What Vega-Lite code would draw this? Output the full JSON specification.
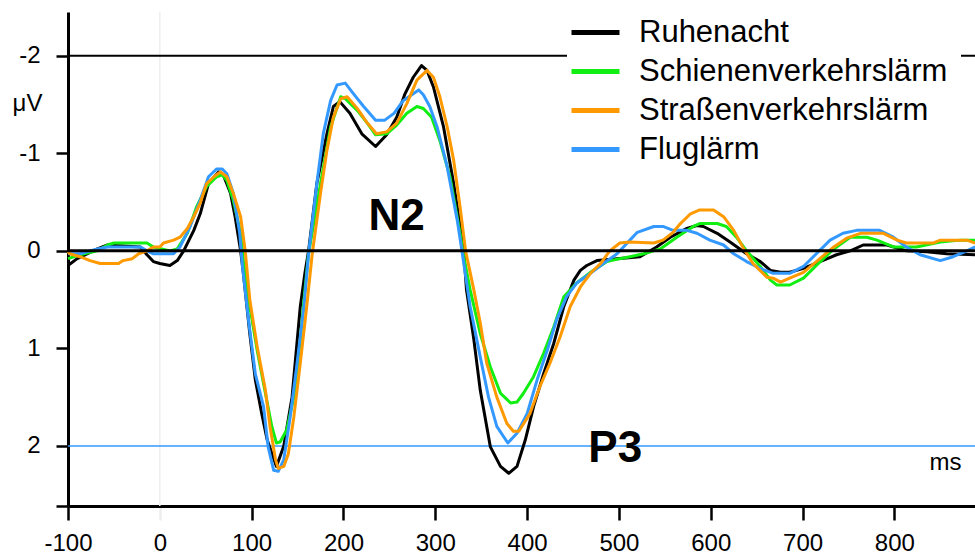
{
  "$schema": "https://vega.github.io/schema/vega-lite/v6.json",
  "width": 907,
  "height": 494,
  "autosize": "none",
  "padding": {"left": 68, "top": 12, "right": 0, "bottom": 53},
  "background": "white",
  "config": {"view": {"stroke": null}},
  "datasets": {
    "erp": [
      {"s":"Ruhenacht","t":-100,"v":0.15},{"s":"Ruhenacht","t":-90,"v":0.08},{"s":"Ruhenacht","t":-68,"v":-0.02},{"s":"Ruhenacht","t":-57,"v":-0.06},{"s":"Ruhenacht","t":-21,"v":-0.04},{"s":"Ruhenacht","t":-14,"v":0.04},{"s":"Ruhenacht","t":-7,"v":0.11},{"s":"Ruhenacht","t":0,"v":0.13},{"s":"Ruhenacht","t":11,"v":0.15},{"s":"Ruhenacht","t":19,"v":0.10},{"s":"Ruhenacht","t":26,"v":0.0},{"s":"Ruhenacht","t":37,"v":-0.21},{"s":"Ruhenacht","t":44,"v":-0.38},{"s":"Ruhenacht","t":53,"v":-0.69},{"s":"Ruhenacht","t":64,"v":-0.81},{"s":"Ruhenacht","t":69,"v":-0.78},{"s":"Ruhenacht","t":77,"v":-0.59},{"s":"Ruhenacht","t":82,"v":-0.35},{"s":"Ruhenacht","t":88,"v":0.0},{"s":"Ruhenacht","t":91,"v":0.23},{"s":"Ruhenacht","t":98,"v":0.85},{"s":"Ruhenacht","t":104,"v":1.32},{"s":"Ruhenacht","t":111,"v":1.67},{"s":"Ruhenacht","t":117,"v":1.94},{"s":"Ruhenacht","t":127,"v":2.21},{"s":"Ruhenacht","t":135,"v":2.0},{"s":"Ruhenacht","t":144,"v":1.5},{"s":"Ruhenacht","t":153,"v":0.57},{"s":"Ruhenacht","t":158,"v":0.23},{"s":"Ruhenacht","t":162,"v":0.0},{"s":"Ruhenacht","t":171,"v":-0.69},{"s":"Ruhenacht","t":182,"v":-1.2},{"s":"Ruhenacht","t":189,"v":-1.48},{"s":"Ruhenacht","t":196,"v":-1.53},{"s":"Ruhenacht","t":207,"v":-1.41},{"s":"Ruhenacht","t":220,"v":-1.2},{"s":"Ruhenacht","t":235,"v":-1.07},{"s":"Ruhenacht","t":247,"v":-1.19},{"s":"Ruhenacht","t":258,"v":-1.37},{"s":"Ruhenacht","t":267,"v":-1.61},{"s":"Ruhenacht","t":276,"v":-1.78},{"s":"Ruhenacht","t":285,"v":-1.9},{"s":"Ruhenacht","t":291,"v":-1.85},{"s":"Ruhenacht","t":298,"v":-1.68},{"s":"Ruhenacht","t":309,"v":-1.27},{"s":"Ruhenacht","t":320,"v":-0.69},{"s":"Ruhenacht","t":331,"v":0.0},{"s":"Ruhenacht","t":334,"v":0.4},{"s":"Ruhenacht","t":342,"v":0.91},{"s":"Ruhenacht","t":349,"v":1.43},{"s":"Ruhenacht","t":360,"v":2.01},{"s":"Ruhenacht","t":371,"v":2.21},{"s":"Ruhenacht","t":380,"v":2.28},{"s":"Ruhenacht","t":389,"v":2.21},{"s":"Ruhenacht","t":398,"v":1.94},{"s":"Ruhenacht","t":407,"v":1.6},{"s":"Ruhenacht","t":418,"v":1.26},{"s":"Ruhenacht","t":429,"v":0.95},{"s":"Ruhenacht","t":440,"v":0.57},{"s":"Ruhenacht","t":451,"v":0.3},{"s":"Ruhenacht","t":458,"v":0.2},{"s":"Ruhenacht","t":465,"v":0.15},{"s":"Ruhenacht","t":476,"v":0.1},{"s":"Ruhenacht","t":498,"v":0.08},{"s":"Ruhenacht","t":523,"v":0.06},{"s":"Ruhenacht","t":541,"v":-0.04},{"s":"Ruhenacht","t":556,"v":-0.14},{"s":"Ruhenacht","t":574,"v":-0.23},{"s":"Ruhenacht","t":585,"v":-0.26},{"s":"Ruhenacht","t":592,"v":-0.25},{"s":"Ruhenacht","t":607,"v":-0.18},{"s":"Ruhenacht","t":621,"v":-0.09},{"s":"Ruhenacht","t":639,"v":0.03},{"s":"Ruhenacht","t":654,"v":0.11},{"s":"Ruhenacht","t":665,"v":0.2},{"s":"Ruhenacht","t":676,"v":0.22},{"s":"Ruhenacht","t":686,"v":0.22},{"s":"Ruhenacht","t":701,"v":0.18},{"s":"Ruhenacht","t":719,"v":0.11},{"s":"Ruhenacht","t":737,"v":0.04},{"s":"Ruhenacht","t":752,"v":0.0},{"s":"Ruhenacht","t":766,"v":-0.06},{"s":"Ruhenacht","t":792,"v":-0.06},{"s":"Ruhenacht","t":813,"v":0.0},{"s":"Ruhenacht","t":835,"v":0.01},{"s":"Ruhenacht","t":857,"v":0.03},{"s":"Ruhenacht","t":888,"v":0.04},

      {"s":"Schienenverkehrslärm","t":-100,"v":0.08},{"s":"Schienenverkehrslärm","t":-87,"v":0.04},{"s":"Schienenverkehrslärm","t":-68,"v":0.0},{"s":"Schienenverkehrslärm","t":-57,"v":-0.06},{"s":"Schienenverkehrslärm","t":-50,"v":-0.08},{"s":"Schienenverkehrslärm","t":-14,"v":-0.08},{"s":"Schienenverkehrslärm","t":-7,"v":-0.04},{"s":"Schienenverkehrslärm","t":11,"v":0.0},{"s":"Schienenverkehrslärm","t":19,"v":-0.02},{"s":"Schienenverkehrslärm","t":30,"v":-0.18},{"s":"Schienenverkehrslärm","t":40,"v":-0.45},{"s":"Schienenverkehrslärm","t":51,"v":-0.66},{"s":"Schienenverkehrslärm","t":62,"v":-0.76},{"s":"Schienenverkehrslärm","t":68,"v":-0.78},{"s":"Schienenverkehrslärm","t":73,"v":-0.72},{"s":"Schienenverkehrslärm","t":80,"v":-0.52},{"s":"Schienenverkehrslärm","t":88,"v":-0.18},{"s":"Schienenverkehrslärm","t":91,"v":0.1},{"s":"Schienenverkehrslärm","t":98,"v":0.57},{"s":"Schienenverkehrslärm","t":106,"v":1.02},{"s":"Schienenverkehrslärm","t":115,"v":1.46},{"s":"Schienenverkehrslärm","t":122,"v":1.8},{"s":"Schienenverkehrslärm","t":127,"v":1.97},{"s":"Schienenverkehrslärm","t":131,"v":1.96},{"s":"Schienenverkehrslärm","t":138,"v":1.84},{"s":"Schienenverkehrslärm","t":146,"v":1.5},{"s":"Schienenverkehrslärm","t":153,"v":0.91},{"s":"Schienenverkehrslärm","t":158,"v":0.4},{"s":"Schienenverkehrslärm","t":162,"v":0.03},{"s":"Schienenverkehrslärm","t":175,"v":-0.69},{"s":"Schienenverkehrslärm","t":186,"v":-1.27},{"s":"Schienenverkehrslärm","t":197,"v":-1.58},{"s":"Schienenverkehrslärm","t":202,"v":-1.56},{"s":"Schienenverkehrslärm","t":215,"v":-1.44},{"s":"Schienenverkehrslärm","t":226,"v":-1.31},{"s":"Schienenverkehrslärm","t":235,"v":-1.19},{"s":"Schienenverkehrslärm","t":247,"v":-1.2},{"s":"Schienenverkehrslärm","t":258,"v":-1.29},{"s":"Schienenverkehrslärm","t":269,"v":-1.41},{"s":"Schienenverkehrslärm","t":280,"v":-1.48},{"s":"Schienenverkehrslärm","t":287,"v":-1.46},{"s":"Schienenverkehrslärm","t":296,"v":-1.37},{"s":"Schienenverkehrslärm","t":305,"v":-1.13},{"s":"Schienenverkehrslärm","t":316,"v":-0.76},{"s":"Schienenverkehrslärm","t":327,"v":-0.18},{"s":"Schienenverkehrslärm","t":331,"v":0.06},{"s":"Schienenverkehrslärm","t":338,"v":0.4},{"s":"Schienenverkehrslärm","t":349,"v":0.85},{"s":"Schienenverkehrslärm","t":360,"v":1.19},{"s":"Schienenverkehrslärm","t":371,"v":1.46},{"s":"Schienenverkehrslärm","t":382,"v":1.56},{"s":"Schienenverkehrslärm","t":389,"v":1.55},{"s":"Schienenverkehrslärm","t":396,"v":1.46},{"s":"Schienenverkehrslärm","t":407,"v":1.29},{"s":"Schienenverkehrslärm","t":418,"v":1.05},{"s":"Schienenverkehrslärm","t":429,"v":0.78},{"s":"Schienenverkehrslärm","t":440,"v":0.47},{"s":"Schienenverkehrslärm","t":454,"v":0.33},{"s":"Schienenverkehrslärm","t":469,"v":0.22},{"s":"Schienenverkehrslärm","t":487,"v":0.11},{"s":"Schienenverkehrslärm","t":501,"v":0.08},{"s":"Schienenverkehrslärm","t":512,"v":0.06},{"s":"Schienenverkehrslärm","t":527,"v":0.03},{"s":"Schienenverkehrslärm","t":545,"v":-0.02},{"s":"Schienenverkehrslärm","t":563,"v":-0.14},{"s":"Schienenverkehrslärm","t":581,"v":-0.25},{"s":"Schienenverkehrslärm","t":588,"v":-0.28},{"s":"Schienenverkehrslärm","t":607,"v":-0.28},{"s":"Schienenverkehrslärm","t":617,"v":-0.25},{"s":"Schienenverkehrslärm","t":628,"v":-0.14},{"s":"Schienenverkehrslärm","t":639,"v":0.0},{"s":"Schienenverkehrslärm","t":654,"v":0.16},{"s":"Schienenverkehrslärm","t":665,"v":0.3},{"s":"Schienenverkehrslärm","t":672,"v":0.35},{"s":"Schienenverkehrslärm","t":686,"v":0.35},{"s":"Schienenverkehrslärm","t":701,"v":0.28},{"s":"Schienenverkehrslärm","t":715,"v":0.15},{"s":"Schienenverkehrslärm","t":734,"v":-0.02},{"s":"Schienenverkehrslärm","t":752,"v":-0.14},{"s":"Schienenverkehrslärm","t":770,"v":-0.14},{"s":"Schienenverkehrslärm","t":781,"v":-0.11},{"s":"Schienenverkehrslärm","t":799,"v":-0.04},{"s":"Schienenverkehrslärm","t":824,"v":-0.04},{"s":"Schienenverkehrslärm","t":850,"v":-0.09},{"s":"Schienenverkehrslärm","t":872,"v":-0.11},{"s":"Schienenverkehrslärm","t":888,"v":-0.11},

      {"s":"Fluglärm","t":-100,"v":0.03},{"s":"Fluglärm","t":-87,"v":0.03},{"s":"Fluglärm","t":-68,"v":-0.02},{"s":"Fluglärm","t":-57,"v":-0.04},{"s":"Fluglärm","t":-21,"v":-0.04},{"s":"Fluglärm","t":-14,"v":0.0},{"s":"Fluglärm","t":-7,"v":0.03},{"s":"Fluglärm","t":15,"v":0.03},{"s":"Fluglärm","t":22,"v":-0.04},{"s":"Fluglärm","t":33,"v":-0.25},{"s":"Fluglärm","t":44,"v":-0.52},{"s":"Fluglärm","t":53,"v":-0.76},{"s":"Fluglärm","t":62,"v":-0.84},{"s":"Fluglärm","t":68,"v":-0.84},{"s":"Fluglärm","t":73,"v":-0.79},{"s":"Fluglärm","t":80,"v":-0.59},{"s":"Fluglärm","t":87,"v":-0.18},{"s":"Fluglärm","t":90,"v":0.16},{"s":"Fluglärm","t":97,"v":0.74},{"s":"Fluglärm","t":104,"v":1.26},{"s":"Fluglärm","t":113,"v":1.6},{"s":"Fluglärm","t":118,"v":2.01},{"s":"Fluglärm","t":124,"v":2.25},{"s":"Fluglärm","t":129,"v":2.26},{"s":"Fluglärm","t":135,"v":2.14},{"s":"Fluglärm","t":142,"v":1.7},{"s":"Fluglärm","t":149,"v":1.19},{"s":"Fluglärm","t":157,"v":0.57},{"s":"Fluglärm","t":162,"v":0.03},{"s":"Fluglärm","t":171,"v":-0.69},{"s":"Fluglärm","t":178,"v":-1.2},{"s":"Fluglärm","t":186,"v":-1.54},{"s":"Fluglärm","t":193,"v":-1.7},{"s":"Fluglärm","t":202,"v":-1.72},{"s":"Fluglärm","t":211,"v":-1.61},{"s":"Fluglärm","t":222,"v":-1.48},{"s":"Fluglärm","t":235,"v":-1.34},{"s":"Fluglärm","t":245,"v":-1.34},{"s":"Fluglärm","t":255,"v":-1.41},{"s":"Fluglärm","t":265,"v":-1.54},{"s":"Fluglärm","t":276,"v":-1.61},{"s":"Fluglärm","t":282,"v":-1.65},{"s":"Fluglärm","t":287,"v":-1.6},{"s":"Fluglärm","t":294,"v":-1.48},{"s":"Fluglärm","t":302,"v":-1.27},{"s":"Fluglärm","t":313,"v":-0.86},{"s":"Fluglärm","t":324,"v":-0.31},{"s":"Fluglärm","t":329,"v":0.0},{"s":"Fluglärm","t":338,"v":0.57},{"s":"Fluglärm","t":349,"v":1.09},{"s":"Fluglärm","t":358,"v":1.5},{"s":"Fluglärm","t":367,"v":1.8},{"s":"Fluglärm","t":379,"v":1.97},{"s":"Fluglärm","t":389,"v":1.87},{"s":"Fluglärm","t":400,"v":1.67},{"s":"Fluglärm","t":411,"v":1.32},{"s":"Fluglärm","t":422,"v":1.02},{"s":"Fluglärm","t":432,"v":0.71},{"s":"Fluglärm","t":443,"v":0.47},{"s":"Fluglärm","t":454,"v":0.33},{"s":"Fluglärm","t":469,"v":0.23},{"s":"Fluglärm","t":483,"v":0.13},{"s":"Fluglärm","t":498,"v":0.03},{"s":"Fluglärm","t":506,"v":-0.05},{"s":"Fluglärm","t":512,"v":-0.11},{"s":"Fluglärm","t":520,"v":-0.19},{"s":"Fluglärm","t":538,"v":-0.25},{"s":"Fluglärm","t":548,"v":-0.25},{"s":"Fluglärm","t":559,"v":-0.21},{"s":"Fluglärm","t":574,"v":-0.21},{"s":"Fluglärm","t":585,"v":-0.18},{"s":"Fluglärm","t":599,"v":-0.11},{"s":"Fluglärm","t":614,"v":-0.06},{"s":"Fluglärm","t":625,"v":0.03},{"s":"Fluglärm","t":639,"v":0.11},{"s":"Fluglärm","t":654,"v":0.18},{"s":"Fluglärm","t":668,"v":0.23},{"s":"Fluglärm","t":686,"v":0.23},{"s":"Fluglärm","t":701,"v":0.16},{"s":"Fluglärm","t":715,"v":0.03},{"s":"Fluglärm","t":730,"v":-0.11},{"s":"Fluglärm","t":744,"v":-0.18},{"s":"Fluglärm","t":759,"v":-0.21},{"s":"Fluglärm","t":784,"v":-0.21},{"s":"Fluglärm","t":799,"v":-0.14},{"s":"Fluglärm","t":813,"v":-0.04},{"s":"Fluglärm","t":828,"v":0.04},{"s":"Fluglärm","t":850,"v":0.1},{"s":"Fluglärm","t":864,"v":0.06},{"s":"Fluglärm","t":879,"v":0.0},{"s":"Fluglärm","t":888,"v":-0.04},

      {"s":"Straßenverkehrslärm","t":-100,"v":0.01},{"s":"Straßenverkehrslärm","t":-98,"v":0.03},{"s":"Straßenverkehrslärm","t":-87,"v":0.06},{"s":"Straßenverkehrslärm","t":-76,"v":0.1},{"s":"Straßenverkehrslärm","t":-65,"v":0.13},{"s":"Straßenverkehrslärm","t":-45,"v":0.13},{"s":"Straßenverkehrslärm","t":-40,"v":0.1},{"s":"Straßenverkehrslärm","t":-30,"v":0.08},{"s":"Straßenverkehrslärm","t":-23,"v":0.03},{"s":"Straßenverkehrslärm","t":-14,"v":0.0},{"s":"Straßenverkehrslärm","t":-7,"v":-0.04},{"s":"Straßenverkehrslärm","t":0,"v":-0.04},{"s":"Straßenverkehrslärm","t":4,"v":-0.08},{"s":"Straßenverkehrslärm","t":15,"v":-0.11},{"s":"Straßenverkehrslärm","t":22,"v":-0.14},{"s":"Straßenverkehrslärm","t":30,"v":-0.23},{"s":"Straßenverkehrslärm","t":37,"v":-0.35},{"s":"Straßenverkehrslärm","t":44,"v":-0.49},{"s":"Straßenverkehrslärm","t":51,"v":-0.69},{"s":"Straßenverkehrslärm","t":59,"v":-0.76},{"s":"Straßenverkehrslärm","t":66,"v":-0.81},{"s":"Straßenverkehrslärm","t":73,"v":-0.76},{"s":"Straßenverkehrslärm","t":80,"v":-0.59},{"s":"Straßenverkehrslärm","t":88,"v":-0.35},{"s":"Straßenverkehrslärm","t":93,"v":0.0},{"s":"Straßenverkehrslärm","t":98,"v":0.5},{"s":"Straßenverkehrslärm","t":106,"v":0.98},{"s":"Straßenverkehrslärm","t":115,"v":1.43},{"s":"Straßenverkehrslärm","t":120,"v":1.8},{"s":"Straßenverkehrslärm","t":126,"v":2.14},{"s":"Straßenverkehrslärm","t":129,"v":2.23},{"s":"Straßenverkehrslärm","t":135,"v":2.21},{"s":"Straßenverkehrslärm","t":140,"v":2.08},{"s":"Straßenverkehrslärm","t":146,"v":1.7},{"s":"Straßenverkehrslärm","t":153,"v":1.15},{"s":"Straßenverkehrslärm","t":160,"v":0.57},{"s":"Straßenverkehrslärm","t":166,"v":0.03},{"s":"Straßenverkehrslärm","t":175,"v":-0.59},{"s":"Straßenverkehrslärm","t":182,"v":-1.03},{"s":"Straßenverkehrslärm","t":189,"v":-1.37},{"s":"Straßenverkehrslärm","t":197,"v":-1.56},{"s":"Straßenverkehrslärm","t":204,"v":-1.58},{"s":"Straßenverkehrslärm","t":215,"v":-1.46},{"s":"Straßenverkehrslärm","t":226,"v":-1.31},{"s":"Straßenverkehrslärm","t":236,"v":-1.2},{"s":"Straßenverkehrslärm","t":247,"v":-1.22},{"s":"Straßenverkehrslärm","t":258,"v":-1.31},{"s":"Straßenverkehrslärm","t":269,"v":-1.51},{"s":"Straßenverkehrslärm","t":280,"v":-1.75},{"s":"Straßenverkehrslärm","t":291,"v":-1.85},{"s":"Straßenverkehrslärm","t":298,"v":-1.78},{"s":"Straßenverkehrslärm","t":305,"v":-1.58},{"s":"Straßenverkehrslärm","t":313,"v":-1.27},{"s":"Straßenverkehrslärm","t":320,"v":-0.93},{"s":"Straßenverkehrslärm","t":327,"v":-0.45},{"s":"Straßenverkehrslärm","t":333,"v":0.0},{"s":"Straßenverkehrslärm","t":342,"v":0.4},{"s":"Straßenverkehrslärm","t":349,"v":0.74},{"s":"Straßenverkehrslärm","t":356,"v":1.15},{"s":"Straßenverkehrslärm","t":367,"v":1.5},{"s":"Straßenverkehrslärm","t":378,"v":1.77},{"s":"Straßenverkehrslärm","t":385,"v":1.85},{"s":"Straßenverkehrslärm","t":391,"v":1.85},{"s":"Straßenverkehrslärm","t":403,"v":1.67},{"s":"Straßenverkehrslärm","t":414,"v":1.39},{"s":"Straßenverkehrslärm","t":425,"v":1.15},{"s":"Straßenverkehrslärm","t":436,"v":0.88},{"s":"Straßenverkehrslärm","t":447,"v":0.57},{"s":"Straßenverkehrslärm","t":458,"v":0.37},{"s":"Straßenverkehrslärm","t":469,"v":0.23},{"s":"Straßenverkehrslärm","t":480,"v":0.13},{"s":"Straßenverkehrslärm","t":490,"v":0.0},{"s":"Straßenverkehrslärm","t":501,"v":-0.08},{"s":"Straßenverkehrslärm","t":512,"v":-0.09},{"s":"Straßenverkehrslärm","t":538,"v":-0.08},{"s":"Straßenverkehrslärm","t":548,"v":-0.11},{"s":"Straßenverkehrslärm","t":559,"v":-0.19},{"s":"Straßenverkehrslärm","t":567,"v":-0.28},{"s":"Straßenverkehrslärm","t":578,"v":-0.38},{"s":"Straßenverkehrslärm","t":588,"v":-0.42},{"s":"Straßenverkehrslärm","t":603,"v":-0.42},{"s":"Straßenverkehrslärm","t":614,"v":-0.35},{"s":"Straßenverkehrslärm","t":625,"v":-0.21},{"s":"Straßenverkehrslärm","t":636,"v":-0.02},{"s":"Straßenverkehrslärm","t":646,"v":0.13},{"s":"Straßenverkehrslärm","t":661,"v":0.27},{"s":"Straßenverkehrslärm","t":668,"v":0.28},{"s":"Straßenverkehrslärm","t":676,"v":0.32},{"s":"Straßenverkehrslärm","t":686,"v":0.28},{"s":"Straßenverkehrslärm","t":701,"v":0.22},{"s":"Straßenverkehrslärm","t":715,"v":0.11},{"s":"Straßenverkehrslärm","t":734,"v":-0.04},{"s":"Straßenverkehrslärm","t":748,"v":-0.13},{"s":"Straßenverkehrslärm","t":763,"v":-0.18},{"s":"Straßenverkehrslärm","t":788,"v":-0.18},{"s":"Straßenverkehrslärm","t":803,"v":-0.11},{"s":"Straßenverkehrslärm","t":813,"v":-0.08},{"s":"Straßenverkehrslärm","t":842,"v":-0.08},{"s":"Straßenverkehrslärm","t":850,"v":-0.11},{"s":"Straßenverkehrslärm","t":879,"v":-0.11},{"s":"Straßenverkehrslärm","t":888,"v":-0.08}
    ],
    "labels": [
      {"t": 258, "v": -0.21, "label": "N2"},
      {"t": 496, "v": 2.165, "label": "P3"}
    ]
  },
  "layer": [
    {
      "data": {"values": [{"t": 0}]},
      "mark": {"type": "rule", "color": "#eeeeee", "strokeWidth": 1.5},
      "encoding": {"x": {"field": "t", "type": "quantitative", "scale": {"domain": [-100, 887.8], "nice": false, "zero": false}}}
    },
    {
      "data": {"values": [{"v": -2}]},
      "mark": {"type": "rule", "color": "#000000", "strokeWidth": 2},
      "encoding": {"y": {"field": "v", "type": "quantitative", "scale": {"domain": [-2.449, 2.616], "reverse": true, "nice": false, "zero": false}}}
    },
    {
      "data": {"values": [{"v": 2}]},
      "mark": {"type": "rule", "color": "#3399ff", "strokeWidth": 1.5},
      "encoding": {"y": {"field": "v", "type": "quantitative"}}
    },
    {
      "data": {"name": "erp"},
      "mark": {"type": "line", "strokeWidth": 3, "strokeJoin": "round", "interpolate": "linear"},
      "encoding": {
        "x": {
          "field": "t", "type": "quantitative",
          "axis": {
            "values": [-100, 0, 100, 200, 300, 400, 500, 600, 700, 800],
            "labelExpr": "'' + datum.value",
            "domainColor": "#000000", "domainWidth": 3,
            "tickColor": {"condition": {"test": "datum.value === 0", "value": "#eeeeee"}, "value": "#000000"},
            "tickWidth": 2.5, "tickSize": 14,
            "labelFont": "Liberation Sans", "labelFontSize": 24, "labelColor": "#000000", "labelPadding": 11,
            "labelFlush": false, "labelOverlap": false,
            "grid": false,
            "title": "ms", "titleFont": "Liberation Sans", "titleFontSize": 24, "titleFontWeight": "normal", "titleColor": "#000000",
            "titleX": 877, "titleY": -37, "titleAlign": "center", "titleBaseline": "alphabetic", "titleAnchor": null
          }
        },
        "y": {
          "field": "v", "type": "quantitative",
          "axis": {
            "values": [-2, -1, 0, 1, 2, 2.616],
            "labelExpr": "datum.value > 2.5 ? '' : '' + datum.value",
            "domainColor": "#000000", "domainWidth": 3,
            "tickColor": "#000000", "tickWidth": 2.5, "tickSize": 12,
            "labelFont": "Liberation Sans", "labelFontSize": 24, "labelColor": "#000000", "labelPadding": 16,
            "labelFlush": false, "labelOverlap": false,
            "grid": false,
            "title": "μV", "titleFont": "Liberation Sans", "titleFontSize": 24, "titleFontWeight": "normal", "titleColor": "#000000",
            "titleAngle": 0, "titleX": -41, "titleY": 98, "titleAlign": "center", "titleBaseline": "alphabetic", "titleAnchor": null
          }
        },
        "color": {
          "field": "s", "type": "nominal",
          "scale": {
            "domain": ["Ruhenacht", "Schienenverkehrslärm", "Straßenverkehrslärm", "Fluglärm"],
            "range": ["#000000", "#11ee11", "#ff9900", "#3399ff"]
          },
          "legend": {
            "title": null, "orient": "none", "legendX": 499, "legendY": -8,
            "symbolType": "M-2,0H2", "symbolSize": 576, "symbolStrokeWidth": 5,
            "labelFont": "Liberation Sans", "labelFontSize": 31, "labelColor": "#000000",
            "labelOffset": 28, "rowPadding": 7, "labelLimit": 0,
            "fillColor": "white", "padding": 13, "strokeColor": null
          }
        }
      }
    },
    {
      "data": {"values": [{"v": 0}]},
      "mark": {"type": "rule", "color": "#000000", "strokeWidth": 3},
      "encoding": {"y": {"field": "v", "type": "quantitative"}}
    },
    {
      "data": {"name": "labels"},
      "mark": {"type": "text", "font": "Liberation Sans", "fontSize": 44, "fontWeight": "bold", "align": "center", "baseline": "alphabetic", "color": "#000000"},
      "encoding": {
        "x": {"field": "t", "type": "quantitative"},
        "y": {"field": "v", "type": "quantitative"},
        "text": {"field": "label"}
      }
    }
  ]
}
